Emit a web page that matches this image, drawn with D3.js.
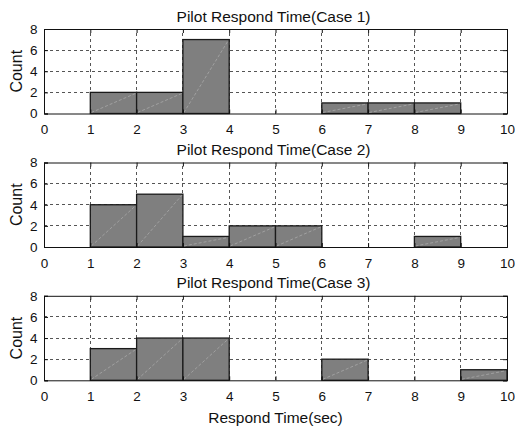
<!DOCTYPE html>
<html>
<head>
<meta charset="utf-8">
<script src="https://cdn.jsdelivr.net/npm/d3@7"></script>
<style>
  html, body { margin: 0; padding: 0; background: #fff; }
  svg { display: block; font-family: "Liberation Sans", Arial, sans-serif; }
</style>
</head>
<body>
<svg id="chart" width="515" height="431"></svg>
<script>
// Histogram bins (1-second wide) and counts per case
const binEdges = [0, 1, 2, 3, 4, 5, 6, 7, 8, 9, 10];
const case1Counts = [0, 2, 2, 7, 0, 0, 1, 1, 1, 0];
const case2Counts = [0, 4, 5, 1, 2, 2, 0, 0, 1, 0];
const case3Counts = [0, 3, 4, 4, 0, 0, 2, 0, 0, 1];
const panelTitles = ["Pilot Respond Time(Case 1)", "Pilot Respond Time(Case 2)", "Pilot Respond Time(Case 3)"];
const xTicks = [0, 1, 2, 3, 4, 5, 6, 7, 8, 9, 10];
const yTicks = [0, 2, 4, 6, 8];
const xLabel = "Respond Time(sec)";
const yLabel = "Count";

const panels = [case1Counts, case2Counts, case3Counts];
const svg = d3.select("#chart");

const left = 44, right = 507;
const panelTops = [29, 162.5, 295.8];
const panelH = 84.5;

const x = d3.scaleLinear().domain([0, 10]).range([left, right]);

panels.forEach((counts, i) => {
  const top = panelTops[i];
  const y = d3.scaleLinear().domain([0, 8]).range([top + panelH, top]);
  const g = svg.append("g");

  // dotted grid
  const grid = g.append("g").attr("stroke", "#555").attr("stroke-width", 1)
    .attr("stroke-dasharray", "3,3").attr("fill", "none");
  xTicks.slice(1, -1).forEach(t => {
    grid.append("line").attr("x1", x(t)).attr("x2", x(t))
      .attr("y1", y(0)).attr("y2", y(8)).attr("shape-rendering", "crispEdges");
  });
  yTicks.slice(1, -1).forEach(t => {
    grid.append("line").attr("x1", x(0)).attr("x2", x(10))
      .attr("y1", y(t)).attr("y2", y(t)).attr("shape-rendering", "crispEdges");
  });

  // bars
  const bins = counts.map((c, k) => ({ x0: binEdges[k], x1: binEdges[k + 1], c }));
  g.append("g").selectAll("rect").data(bins).join("rect")
    .attr("x", d => x(d.x0))
    .attr("y", d => y(d.c))
    .attr("width", d => x(d.x1) - x(d.x0))
    .attr("height", d => y(0) - y(d.c))
    .attr("fill", "#7f7f7f")
    .attr("stroke", "#1a1a1a")
    .attr("stroke-width", 1.3);
  // faint diagonal inside each filled bar
  g.append("g").selectAll("line").data(bins.filter(d => d.c > 0)).join("line")
    .attr("x1", d => x(d.x0) + 1).attr("y1", y(0) - 1)
    .attr("x2", d => x(d.x1) - 1).attr("y2", d => y(d.c) + 1)
    .attr("stroke", "#a8a8a8").attr("stroke-width", 0.8)
    .attr("stroke-dasharray", "3,2");

  // axes with inward ticks
  const axB = d3.axisBottom(x).tickValues(xTicks).tickSize(-4).tickPadding(11).tickFormat(d3.format("d"));
  const axL = d3.axisLeft(y).tickValues(yTicks).tickSize(-4).tickPadding(6.5).tickFormat(d3.format("d"));
  const axT = d3.axisTop(x).tickValues(xTicks).tickSize(-4).tickFormat("");
  const axR = d3.axisRight(y).tickValues(yTicks).tickSize(-4).tickFormat("");

  const styleAxis = sel => {
    sel.select(".domain").attr("stroke", "#111").attr("stroke-width", 1);
    sel.selectAll(".tick line").attr("stroke", "#111");
    sel.selectAll("text").attr("font-size", "13.5px").attr("fill", "#111")
      .attr("font-family", "Liberation Sans, Arial, sans-serif");
  };
  g.append("g").attr("transform", `translate(0,${y(0)})`).call(axB).call(styleAxis);
  g.append("g").attr("transform", `translate(${left},0)`).call(axL).call(styleAxis);
  g.append("g").attr("transform", `translate(0,${y(8)})`).call(axT).call(styleAxis);
  g.append("g").attr("transform", `translate(${right},0)`).call(axR).call(styleAxis);

  // title
  g.append("text").attr("x", (left + right) / 2 - 2).attr("y", top - 7.5)
    .attr("text-anchor", "middle").attr("font-size", "15.5px").attr("fill", "#111")
    .text(panelTitles[i]);

  // y label
  g.append("text")
    .attr("transform", `translate(21.5,${top + panelH / 2}) rotate(-90)`)
    .attr("text-anchor", "middle").attr("font-size", "16px").attr("fill", "#111")
    .text(yLabel);
});

svg.append("text").attr("x", (left + right) / 2).attr("y", 423)
  .attr("text-anchor", "middle").attr("font-size", "15.5px").attr("fill", "#111")
  .text(xLabel);
</script>
</body>
</html>
